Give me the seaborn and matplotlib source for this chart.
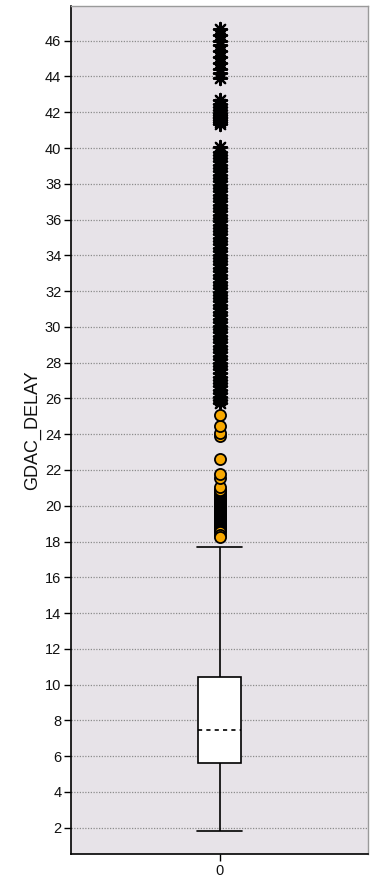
import matplotlib
matplotlib.use("Agg")
import matplotlib.pyplot as plt
import seaborn as sns
import pandas as pd

# ---- data -------------------------------------------------------------
category = "0"
y_label = "GDAC_DELAY"
# lower whisker, Q1, median, Q3, upper whisker
box_summary = [1.83, 5.64, 7.45, 10.43, 17.68]
# outliers (circles), dense run first, isolated ones after
outlier_values = [18.65, 18.69, 18.74, 18.79, 18.84, 18.88, 18.92, 18.97, 19.02,
                  19.06, 19.11, 19.15, 19.20, 19.25, 19.29, 19.34, 19.38, 19.43,
                  19.47, 19.52, 19.56, 19.61, 19.66, 19.70, 19.75, 19.79, 19.84,
                  19.88, 19.93, 19.97, 20.02, 20.07, 20.11, 20.16, 20.20, 20.25,
                  20.29, 20.34, 20.39, 20.43, 20.48, 20.52, 20.57, 20.61, 20.66,
                  20.71, 20.75, 20.80, 20.88,
                  18.55, 18.37, 18.24, 21.07, 21.54, 21.78, 22.60, 23.90, 24.05,
                  24.46, 25.08]
# extreme values (stars)
extreme_values = [25.72, 25.93, 26.08, 26.31, 26.47, 26.70, 26.86, 27.05, 27.22,
                  27.41, 27.63, 27.80, 27.98, 28.21, 28.37, 28.58, 28.77, 28.92,
                  29.14, 29.33, 29.50, 29.71, 29.88, 30.07, 30.29, 30.46, 30.65,
                  30.82, 31.04, 31.20, 31.43, 31.59, 31.78, 31.97, 32.16, 32.35,
                  32.52, 32.74, 32.90, 33.11, 33.27, 33.49, 33.66, 33.85, 34.03,
                  34.24, 34.40, 34.61, 34.79, 34.96, 35.18, 35.34, 35.55, 35.72,
                  35.91, 36.10, 36.28, 36.47, 36.65, 36.83, 37.04, 37.21, 37.40,
                  37.58, 37.77, 37.95, 38.15, 38.32, 38.51, 38.69, 38.88, 39.06,
                  39.25, 39.43, 39.62, 39.80, 40.06,
                  41.37, 41.46, 41.55, 41.66, 41.74, 41.85, 41.96, 42.12, 42.30,
                  42.47, 42.66,
                  43.89, 44.18, 44.42, 44.73, 45.08, 45.41, 45.74, 45.98, 46.33,
                  46.66]
y_ticks = [2, 4, 6, 8, 10, 12, 14, 16, 18, 20, 22, 24, 26, 28, 30, 32, 34, 36,
           38, 40, 42, 44, 46]

# ---- style ------------------------------------------------------------
sns.set_theme(style="white")
plt.rcParams["font.family"] = ["Liberation Sans", "DejaVu Sans"]

fig = plt.figure(figsize=(3.76, 8.86), dpi=100)
ax = fig.add_axes([71 / 376, 1 - 854 / 886, (368 - 71) / 376, (854 - 6) / 886])
ax.set_facecolor("#E7E3E8")

box_df = pd.DataFrame({"cat": [category] * len(box_summary), "val": box_summary})
sns.boxplot(data=box_df, x="cat", y="val", ax=ax, width=0.142, whis=(0, 100),
            color="white", linecolor="black", linewidth=1.2, showfliers=False,
            medianprops=dict(linestyle=(0, (2.5, 2.5)), color="black", linewidth=1.2),
            capwidths=0.15, zorder=3)

ext_df = pd.DataFrame({"cat": [category] * len(extreme_values), "val": extreme_values})
sns.stripplot(data=ext_df, x="cat", y="val", ax=ax, jitter=False, marker=(8, 2, 0),
              color="black", size=9.5, linewidth=1.6, zorder=4)

out_df = pd.DataFrame({"cat": [category] * len(outlier_values), "val": outlier_values})
sns.stripplot(data=out_df, x="cat", y="val", ax=ax, jitter=False, marker="o",
              color="#F7A800", edgecolor="black", size=8, linewidth=1.3, zorder=5)

ax.set_xlim(-0.5, 0.5)
ax.set_ylim(0.53, 47.94)
ax.set_yticks(y_ticks)
ax.set_yticklabels([str(t) for t in y_ticks])
ax.set_xticks([0])
ax.set_xticklabels([category])
ax.set_xlabel("")
ax.set_ylabel(y_label, fontsize=13, color="#111111", labelpad=3)
ax.tick_params(axis="both", which="both", direction="out", length=5, width=1,
               color="black", labelsize=10.5, labelcolor="#111111", pad=2,
               left=True, bottom=True)
ax.yaxis.grid(True, linestyle=(0, (1, 1.2)), color="#8c8c8c", linewidth=0.9)
ax.xaxis.grid(False)
ax.set_axisbelow(True)
for side in ["left", "bottom"]:
    ax.spines[side].set_color("black")
    ax.spines[side].set_linewidth(1.2)
for side in ["top", "right"]:
    ax.spines[side].set_color("#9a9a9a")
    ax.spines[side].set_linewidth(1.0)

fig.savefig("out.png", dpi=100)
